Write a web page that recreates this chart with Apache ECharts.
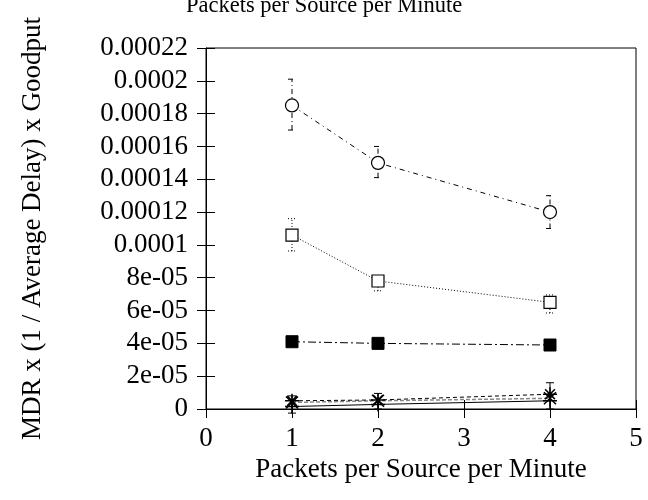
<!DOCTYPE html>
<html>
<head>
<meta charset="utf-8">
<script src="https://cdn.jsdelivr.net/npm/echarts@6/dist/echarts.min.js"></script>
<style>html,body{margin:0;padding:0;background:#fff;}#c{width:648px;height:500px;}</style>
</head>
<body>
<div id="c"></div>
<script>
var xValues = [1, 2, 4];
var circleVals = [0.000185, 0.000150, 0.000120];
var circleLow = [0.000170, 0.000141, 0.000110];
var circleHigh = [0.000201, 0.000160, 0.000130];
var squareVals = [0.000106, 0.000078, 0.000065];
var squareLow = [0.0000963, 0.000072, 0.0000585];
var squareHigh = [0.000116, 0.000081, 0.0000695];
var filledVals = [0.0000410, 0.0000400, 0.0000390];
var plusVals = [0.0000015, 0.0000028, 0.0000050];
var plusLow = [-0.0000025, 0.0, 0.0];
var plusHigh = [0.0000080, 0.0000095, 0.0000160];
var crossVals = [0.0000040, 0.0000050, 0.0000065];
var starVals = [0.0000050, 0.0000055, 0.0000090];
var yTickLabels = ['0', '2e-05', '4e-05', '6e-05', '8e-05', '0.0001', '0.00012', '0.00014', '0.00016', '0.00018', '0.0002', '0.00022'];
var xTickLabels = ['0', '1', '2', '3', '4', '5'];

var FONT = 'Liberation Serif';

function pairs(vals) { return xValues.map(function (x, i) { return [x, vals[i]]; }); }
function errData(low, high) { return xValues.map(function (x, i) { return [x, low[i], high[i]]; }); }

function errSeries(low, high, dash) {
  return {
    type: 'custom',
    data: errData(low, high),
    z: 1,
    silent: true,
    renderItem: function (params, api) {
      var x = api.value(0);
      var lo = api.coord([x, api.value(1)]);
      var hi = api.coord([x, api.value(2)]);
      var w = 4;
      var style = { stroke: '#000', lineWidth: 1, lineDash: dash };
      return {
        type: 'group',
        children: [
          { type: 'line', shape: { x1: lo[0], y1: lo[1], x2: hi[0], y2: hi[1] }, style: style },
          { type: 'line', shape: { x1: lo[0] - w, y1: lo[1], x2: lo[0] + w, y2: lo[1] }, style: style },
          { type: 'line', shape: { x1: hi[0] - w, y1: hi[1], x2: hi[0] + w, y2: hi[1] }, style: style }
        ]
      };
    }
  };
}

var asterisk = 'path://M0,-10L0,10M-10,0L10,0M-7,-7L7,7M-7,7L7,-7';
var plus = 'path://M0,-10L0,10M-10,0L10,0';
var cross = 'path://M-7,-7L7,7M-7,7L7,-7';

var chart = echarts.init(document.getElementById('c'), null, { renderer: 'canvas' });
chart.setOption({
  animation: false,
  backgroundColor: '#fff',
  title: {
    text: 'Packets per Source per Minute',
    left: 181,
    top: -10,
    textStyle: { fontFamily: FONT, fontSize: 22.5, fontWeight: 'normal', color: '#000' }
  },
  grid: { left: 206, right: 12, top: 48, bottom: 91, show: true, borderColor: '#000', borderWidth: 1 },
  xAxis: [{
    type: 'value', min: 0, max: 5, interval: 1,
    name: 'Packets per Source per Minute', nameLocation: 'middle', nameGap: 42,
    nameTextStyle: { fontFamily: FONT, fontSize: 27, color: '#000' },
    axisLine: { show: true, lineStyle: { color: '#000', width: 1 } },
    axisTick: { inside: true, length: 9, lineStyle: { color: '#000' } },
    axisLabel: { fontFamily: FONT, fontSize: 27, color: '#000', margin: 16,
      formatter: function (v) { return xTickLabels[Math.round(v)]; } },
    splitLine: { show: false }
  }, {
    type: 'value', min: 0, max: 5, interval: 1, position: 'top',
    axisLine: { show: false }, axisTick: { inside: true, length: 9, lineStyle: { color: '#000' } },
    axisLabel: { show: false }, splitLine: { show: false }
  }],
  yAxis: [{
    type: 'value', min: 0, max: 0.00022, interval: 0.00002,
    name: 'MDR x (1 / Average Delay) x Goodput', nameLocation: 'middle', nameGap: 160,
    nameTextStyle: { fontFamily: FONT, fontSize: 27, color: '#000' },
    axisLine: { show: true, lineStyle: { color: '#000', width: 1 } },
    axisTick: { inside: true, length: 9, lineStyle: { color: '#000' } },
    axisLabel: { fontFamily: FONT, fontSize: 27, color: '#000', margin: 18,
      formatter: function (v) { return yTickLabels[Math.round(v / 0.00002)]; } },
    splitLine: { show: false }
  }, {
    type: 'value', min: 0, max: 0.00022, interval: 0.00002, position: 'right',
    axisLine: { show: false }, axisTick: { inside: true, length: 9, lineStyle: { color: '#000' } },
    axisLabel: { show: false }, splitLine: { show: false }
  }],
  series: [
    errSeries(circleLow, circleHigh, [5, 3, 1, 3]),
    errSeries(squareLow, squareHigh, [1, 2]),
    errSeries(plusLow, plusHigh, null),
    {
      type: 'line', data: pairs(circleVals), symbol: 'circle', symbolSize: 13,
      lineStyle: { color: '#000', width: 1, type: [5, 4, 1, 4] },
      itemStyle: { color: '#fff', borderColor: '#000', borderWidth: 1.2 }, z: 3
    },
    {
      type: 'line', data: pairs(squareVals), symbol: 'rect', symbolSize: 12,
      lineStyle: { color: '#000', width: 1, type: [1, 2] },
      itemStyle: { color: '#fff', borderColor: '#000', borderWidth: 1.2 }, z: 3
    },
    {
      type: 'line', data: pairs(filledVals), symbol: 'rect', symbolSize: 12,
      lineStyle: { color: '#000', width: 1, type: [8, 3, 2, 3] },
      itemStyle: { color: '#000', borderColor: '#000', borderWidth: 1 }, z: 3
    },
    {
      type: 'line', data: pairs(plusVals), symbol: plus, symbolSize: 14,
      lineStyle: { color: '#000', width: 1, type: 'solid' },
      itemStyle: { color: 'none', borderColor: '#000', borderWidth: 1.5 }, z: 3
    },
    {
      type: 'line', data: pairs(crossVals), symbol: cross, symbolSize: 12,
      lineStyle: { color: '#888', width: 1.5, type: [4, 2] },
      itemStyle: { color: 'none', borderColor: '#000', borderWidth: 1.5 }, z: 3
    },
    {
      type: 'line', data: pairs(starVals), symbol: asterisk, symbolSize: 14,
      lineStyle: { color: '#000', width: 1, type: [4, 3] },
      itemStyle: { color: 'none', borderColor: '#000', borderWidth: 1.5 }, z: 3
    }
  ]
});
</script>
</body>
</html>
